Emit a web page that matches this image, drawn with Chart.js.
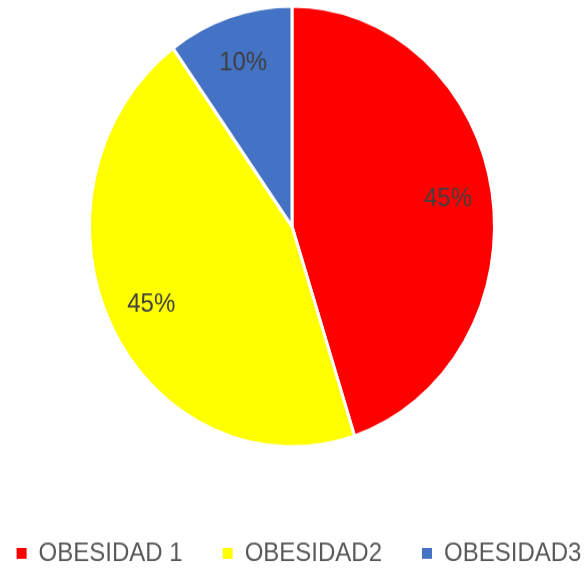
<!DOCTYPE html>
<html>
<head>
<meta charset="utf-8">
<script src="https://cdn.jsdelivr.net/npm/chart.js@4/dist/chart.umd.min.js"></script>
<style>
  html, body { margin: 0; padding: 0; background: #ffffff; overflow: hidden; }
  #wrap { position: relative; width: 587px; height: 568px; overflow: hidden; }
  #c { position: absolute; left: 0; top: 0; display: block;
       transform: translate(-38px, -44px) scaleY(1.0881); transform-origin: 0 0; }
</style>
</head>
<body>
<div id="wrap"><canvas id="c" width="660" height="571"></canvas></div>
<script>
const categories = ["OBESIDAD 1", "OBESIDAD2", "OBESIDAD3"];
const values = [45, 45, 10];
const sliceColors = ["#ff0000", "#ffff00", "#4472c4"];

const labelPlugin = {
  id: "sliceLabels",
  afterLayout(chart) {
    // nudge legend slightly right like the reference
    if (chart.legend) { chart.legend.left += 7; chart.legend.right += 7; }
  },
  afterDatasetsDraw(chart) {
    const meta = chart.getDatasetMeta(0);
    const data = chart.data.datasets[0].data;
    const total = data.reduce((a, b) => a + b, 0);
    const ctx = chart.ctx;
    ctx.save();
    ctx.font = "24px 'Liberation Sans', Arial, sans-serif";
    ctx.fillStyle = "#404040";
    ctx.textAlign = "center";
    ctx.textBaseline = "middle";
    meta.data.forEach((arc, i) => {
      const p = arc.getProps(["x", "y", "startAngle", "endAngle", "outerRadius"], true);
      const mid = (p.startAngle + p.endAngle) / 2;
      const r = p.outerRadius * 0.78;
      const tx = p.x + Math.cos(mid) * r;
      const ty = p.y + Math.sin(mid) * r;
      ctx.fillText(Math.round(data[i] / total * 100) + "%", tx, ty);
    });
    ctx.restore();
  }
};

new Chart(document.getElementById("c"), {
  type: "pie",
  data: {
    labels: categories,
    datasets: [{
      data: values,
      backgroundColor: sliceColors,
      borderColor: "#ffffff",
      borderWidth: 3
    }]
  },
  options: {
    responsive: false,
    animation: false,
    radius: 202.5,
    layout: { padding: 0 },
    plugins: {
      tooltip: { enabled: false },
      legend: {
        position: "bottom",
        labels: {
          font: { family: "'Liberation Sans', Arial, sans-serif", size: 24 },
          color: "#595959",
          usePointStyle: true,
          pointStyle: "rect",
          boxWidth: 10,
          boxHeight: 10,
          padding: 40,
          generateLabels(chart) {
            const items = Chart.overrides.pie.plugins.legend.labels.generateLabels(chart);
            items.forEach(it => { it.lineWidth = 0; it.strokeStyle = it.fillStyle; });
            return items;
          }
        }
      }
    }
  },
  plugins: [labelPlugin]
});
</script>
</body>
</html>
